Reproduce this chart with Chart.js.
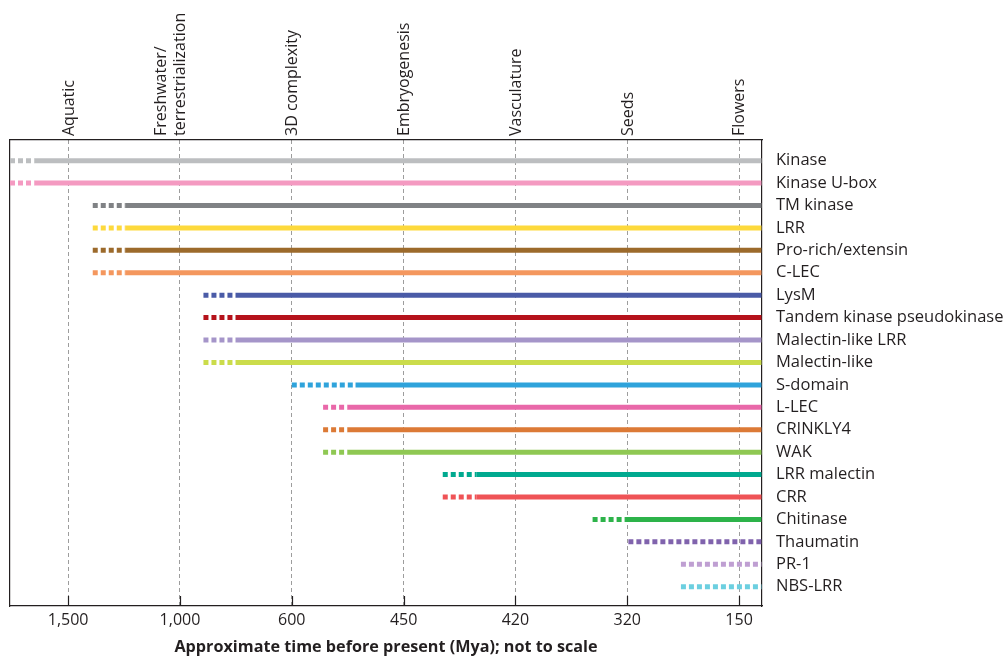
<!DOCTYPE html>
<html>
<head>
<meta charset="utf-8">
<script src="https://cdn.jsdelivr.net/npm/chart.js@4.4.1/dist/chart.umd.min.js"></script>
<style>
  html, body { margin: 0; padding: 0; background: #fff; }
  #wrap { width: 1008px; height: 659px; }
</style>
</head>
<body>
<div id="wrap"><canvas id="chart"></canvas></div>
<script>
// x axis is not to scale: values are tick positions (0 = 1,500 Mya ... 6 = 150 Mya)
const timeLabels = ['1,500', '1,000', '600', '450', '420', '320', '150'];
const eraLabels = ['Aquatic', ['Freshwater/', 'terrestrialization'], '3D complexity',
  'Embryogenesis', 'Vasculature', 'Seeds', 'Flowers'];

const families = ['Kinase', 'Kinase U-box', 'TM kinase', 'LRR', 'Pro-rich/extensin', 'C-LEC',
  'LysM', 'Tandem kinase pseudokinase', 'Malectin-like LRR', 'Malectin-like', 'S-domain',
  'L-LEC', 'CRINKLY4', 'WAK', 'LRR malectin', 'CRR', 'Chitinase', 'Thaumatin', 'PR-1', 'NBS-LRR'];

// where the dotted (uncertain) part starts, and where the solid part starts
const dottedStart = [-0.52, -0.52, 0.22, 0.22, 0.22, 0.22, 1.21, 1.21, 1.21, 1.21,
  2.0, 2.28, 2.28, 2.28, 3.35, 3.35, 4.69, 5.01, 5.48, 5.48];
const solidStart = [-0.30, -0.30, 0.51, 0.51, 0.51, 0.51, 1.50, 1.50, 1.50, 1.50,
  2.57, 2.50, 2.50, 2.50, 3.65, 3.65, 4.98, 6.2, 6.2, 6.2];
const present = 6.2;

const colors = ['#bcbec0', '#f49ac1', '#808285', '#fdd93c', '#9c6a2b', '#f4975e',
  '#4a5ba7', '#b5121b', '#a595c9', '#cbdc4b', '#2fa3db', '#e968a9', '#dc7a36',
  '#8fc853', '#00a98f', '#ef5356', '#2db34a', '#8063ad', '#bf9fd2', '#6ccfe0'];

const textColor = '#231f20';
const X_MIN = -0.52, X_MAX = 6.205;

const datasets = families.map((name, i) => ({
  label: name,
  data: [
    { x: dottedStart[i], y: i },
    { x: solidStart[i], y: i },
    { x: present, y: i }
  ],
  borderColor: colors[i],
  borderWidth: 5,
  borderCapStyle: 'butt',
  pointRadius: 0,
  pointHoverRadius: 0,
  fill: false,
  segment: {
    borderDash: ctx => ctx.p0DataIndex === 0 ? [5, 3] : []
  }
}));

const innerTicks = {
  id: 'innerTicks',
  afterDraw(chart) {
    const x = chart.scales.x;
    const ctx = chart.ctx;
    ctx.save();
    ctx.strokeStyle = textColor;
    ctx.lineWidth = 1.2;
    x.ticks.forEach(t => {
      const px = Math.round(x.getPixelForValue(t.value)) + 0.5;
      ctx.beginPath();
      ctx.moveTo(px, x.top);
      ctx.lineTo(px, x.top - 10);
      ctx.stroke();
    });
    ctx.restore();
  }
};

const indexTicks = (n) => scale => { scale.ticks = Array.from({ length: n }, (_, i) => ({ value: i })); };

new Chart(document.getElementById('chart'), {
  type: 'line',
  data: { datasets },
  plugins: [innerTicks],
  options: {
    responsive: true,
    maintainAspectRatio: false,
    animation: false,
    layout: { padding: 0 },
    plugins: { legend: { display: false }, tooltip: { enabled: false } },
    scales: {
      x: {
        type: 'linear',
        position: 'bottom',
        min: X_MIN,
        max: X_MAX,
        afterBuildTicks: indexTicks(timeLabels.length),
        afterFit: s => { s.height = 53; },
        grid: { color: '#9d9d9d', lineWidth: 1, drawTicks: false },
        border: { display: true, color: textColor, width: 1.2, dash: [4, 3] },
        ticks: {
          color: textColor,
          font: { family: 'Open Sans', size: 16 },
          padding: 5,
          autoSkip: false,
          maxRotation: 0,
          callback: v => timeLabels[v]
        },
        title: {
          display: true,
          text: 'Approximate time before present (Mya); not to scale',
          color: textColor,
          font: { family: 'Open Sans', size: 16.2, weight: 'bold' },
          padding: { top: 0, bottom: 1.5 }
        }
      },
      x2: {
        type: 'linear',
        position: 'top',
        min: X_MIN,
        max: X_MAX,
        afterBuildTicks: indexTicks(eraLabels.length),
        afterFit: s => { s.height = 140; },
        grid: { display: false, drawTicks: false },
        border: { display: true, color: textColor, width: 1.2 },
        ticks: {
          color: textColor,
          font: { family: 'Open Sans', size: 16 },
          padding: 4,
          labelOffset: 20,
          autoSkip: false,
          minRotation: 90,
          maxRotation: 90,
          callback: v => eraLabels[v]
        }
      },
      y: {
        type: 'linear',
        position: 'right',
        reverse: true,
        min: -0.92,
        max: 19.86,
        afterBuildTicks: indexTicks(families.length),
        afterFit: s => { s.width = 246; },
        grid: { display: false, drawTicks: false },
        border: { display: true, color: textColor, width: 1.2 },
        ticks: {
          color: textColor,
          font: { family: 'Open Sans', size: 16.5 },
          padding: 14,
          autoSkip: false,
          callback: v => families[v]
        }
      },
      yLeft: {
        type: 'linear',
        position: 'left',
        afterFit: s => { s.width = 10; },
        grid: { display: false, drawTicks: false },
        border: { display: true, color: textColor, width: 1.2 },
        ticks: { display: false }
      }
    }
  }
});
</script>
</body>
</html>
